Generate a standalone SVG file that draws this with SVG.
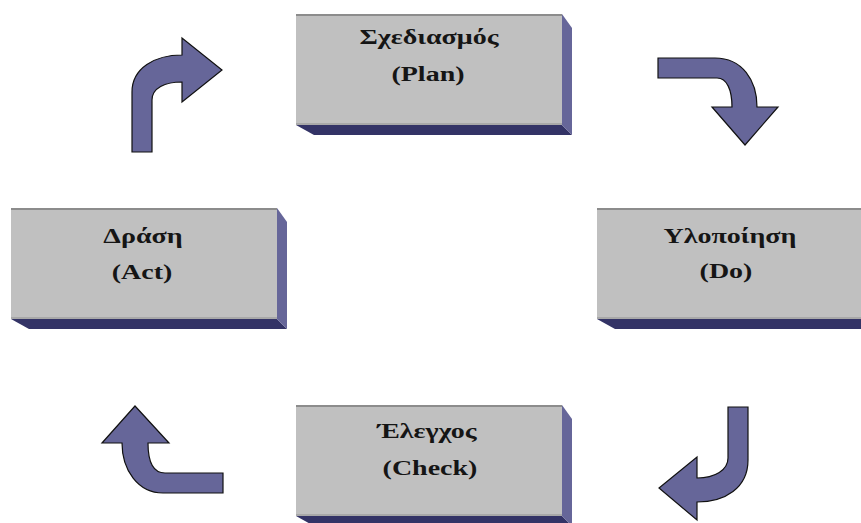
<svg xmlns="http://www.w3.org/2000/svg" width="861" height="523" viewBox="0 0 861 523">
<style>
.front{fill:#c0c0c0}
.topline{stroke:#8c8c8c;stroke-width:2}
.botline{stroke:#a8a8a8;stroke-width:2}
.side{fill:#666699}
.bottom{fill:#333366}
.lbl{font-family:"Liberation Serif","Times New Roman",serif;font-weight:bold;font-size:20px;fill:#151515;text-anchor:middle}
.arrow{fill:#666699;stroke:#111;stroke-width:1.2;stroke-linejoin:miter}
</style>
<defs>
<g id="box">
<polygon class="bottom" points="0,111 266,111 276,121 18,121"/>
<polygon class="side" points="266,0 276,14 276,121 266,111"/>
<rect class="front" x="0" y="0" width="266" height="111"/>
<line class="topline" x1="0" y1="1" x2="266" y2="1"/>
<line class="botline" x1="0" y1="110" x2="266" y2="110"/>
</g>
</defs>
<rect width="861" height="523" fill="#fff"/>
<g id="plan">
<use href="#box" x="296" y="14"/>
<text class="lbl" transform="translate(429,44) scale(1.4,1)">Σχεδιασμός</text>
<text class="lbl" transform="translate(428,81) scale(1.4,1)">(Plan)</text>
</g>
<g id="do">
<use href="#box" x="597" y="208"/>
<text class="lbl" transform="translate(730,243) scale(1.4,1)">Υλοποίηση</text>
<text class="lbl" transform="translate(726,278) scale(1.4,1)">(Do)</text>
</g>
<g id="check">
<use href="#box" x="296" y="405"/>
<text class="lbl" transform="translate(427,438) scale(1.4,1)">Έλεγχος</text>
<text class="lbl" transform="translate(430,475) scale(1.4,1)">(Check)</text>
</g>
<g id="act">
<use href="#box" x="11" y="208"/>
<text class="lbl" transform="translate(143,243) scale(1.4,1)">Δράση</text>
<text class="lbl" transform="translate(142,279) scale(1.4,1)">(Act)</text>
</g>
<g id="connectors">
<path class="arrow" d="M658,58 L715,58 C742,58 757,80 757,107 L778,107 L745,145 L712,107 L732,107 C732,90 727,78 717,78 L658,78 Z"/>
<path class="arrow" d="M728,407 L748,407 L748,460 C748,488 725,502 697,502 L697,520 L659,488 L697,457 L697,478 C715,478 728,470 728,458 Z"/>
<path class="arrow" d="M223,473 L223,493 L163,493 C138,493 122,470 122,443 L102,443 L135,406 L169,443 L148,443 C148,460 152,473 165,473 Z"/>
<path class="arrow" d="M132,152 L132,92 C132,68 155,55 182,55 L182,38 L222,70 L182,102 L182,82 C165,82 152,88 152,100 L152,152 Z"/>
</g>
</svg>
